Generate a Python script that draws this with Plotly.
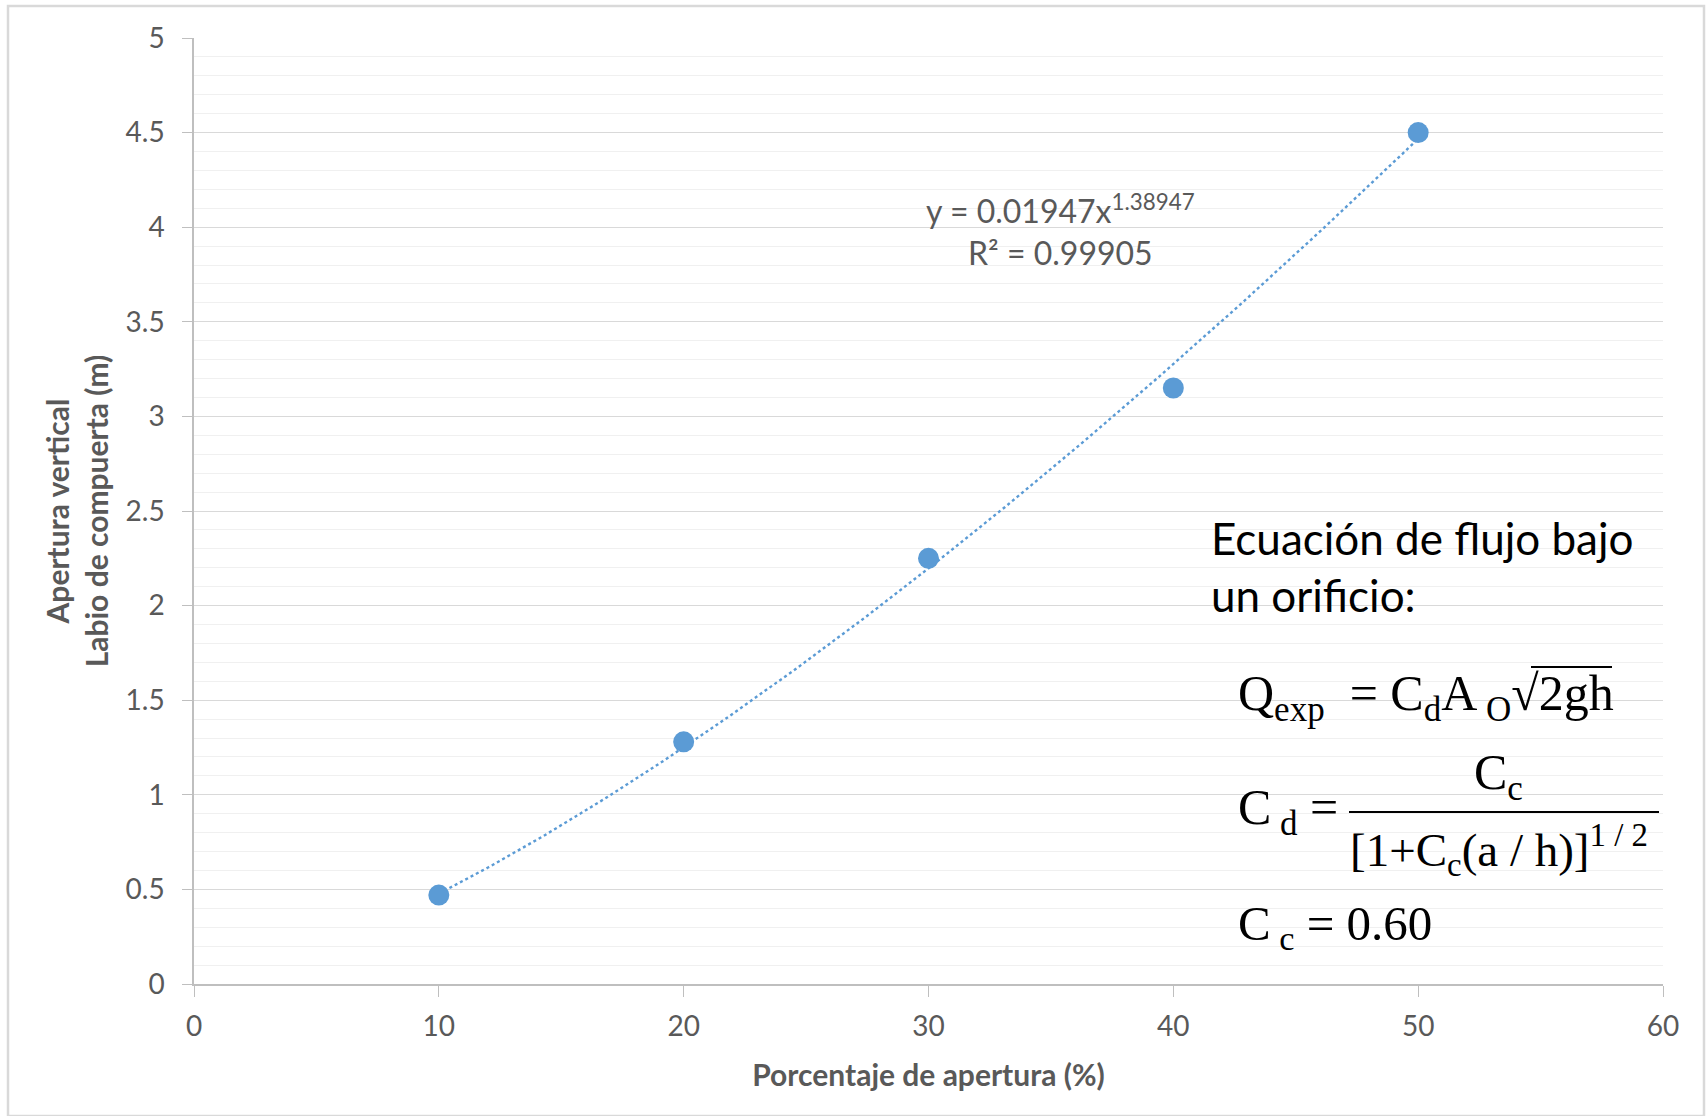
import numpy as np
import plotly.graph_objects as go

# ---- data ----
apertura_pct = [10, 20, 30, 40, 50]
apertura_m = [0.47, 1.28, 2.25, 3.15, 4.50]
fit_a = 0.01947
fit_b = 1.38947
fit_r2 = 0.99905
x_ticks = [0, 10, 20, 30, 40, 50, 60]
y_ticks = [0, 0.5, 1, 1.5, 2, 2.5, 3, 3.5, 4, 4.5, 5]
y_tick_labels = ["0", "0.5", "1", "1.5", "2", "2.5", "3", "3.5", "4", "4.5", "5"]

W, H = 1708, 1116
L, R, T, B = 194, 1663, 38, 984

def px(x):
    return (x - L) / (R - L)

def py(y):
    return (B - y) / (B - T)

blue = "#5B9BD5"
grey = "#595959"
sans = "Lato, 'Open Sans', sans-serif"
serif = "'Liberation Serif', 'DejaVu Serif', serif"
NB = "\u00a0"

# trendline from the fitted power-law equation
xt = np.linspace(min(apertura_pct), max(apertura_pct), 200)
yt = fit_a * xt ** fit_b

fig = go.Figure()
fig.add_trace(go.Scatter(x=xt, y=yt, mode="lines",
                         line=dict(color=blue, width=2.4, dash="dot"),
                         hoverinfo="skip", showlegend=False))
fig.add_trace(go.Scatter(x=apertura_pct, y=apertura_m, mode="markers",
                         marker=dict(color=blue, size=21, line=dict(width=0)),
                         showlegend=False))

fig.update_layout(
    width=W, height=H,
    margin=dict(l=L, r=W - R, t=T, b=H - B),
    paper_bgcolor="white", plot_bgcolor="white",
    font=dict(family=sans, color=grey, size=28),
    xaxis=dict(range=[0, 60], tickvals=x_ticks, showgrid=False, zeroline=False,
               showline=True, linecolor="#BFBFBF", linewidth=1.5,
               ticks="outside", ticklen=11, tickcolor="#BFBFBF",
               ticklabelstandoff=6,
               tickfont=dict(size=28, color=grey, family=sans),
               title=dict(text="<b>Porcentaje de apertura (%)</b>",
                          font=dict(size=30, color=grey, family=sans), standoff=24)),
    yaxis=dict(range=[0, 5], tickvals=y_ticks, ticktext=y_tick_labels,
               showgrid=True, gridcolor="#D9D9D9", gridwidth=1.3, zeroline=False,
               showline=True, linecolor="#BFBFBF", linewidth=1.5,
               ticks="outside", ticklen=10, tickcolor="#BFBFBF",
               ticklabelstandoff=12,
               minor=dict(dtick=0.1, showgrid=True, gridcolor="#F0F0F0", gridwidth=1, ticks=""),
               tickfont=dict(size=28, color=grey, family=sans),
               title=dict(text="<b>Apertura vertical<br>Labio de compuerta (m)</b>",
                          font=dict(size=30, color=grey, family=sans), standoff=8)),
)

ann = []
# trendline equation
ann.append(dict(x=px(1060), y=py(230), xref="paper", yref="paper",
                text=f"y = {fit_a}x<sup>{fit_b}</sup><br>R² = {fit_r2}",
                showarrow=False, align="center", xanchor="center", yanchor="middle",
                font=dict(size=32, color=grey, family=sans)))
# descriptive text
ann.append(dict(x=px(1209), y=py(566), xref="paper", yref="paper",
                text="Ecuación de flujo bajo<br>un orificio:",
                showarrow=False, align="left", xanchor="left", yanchor="middle",
                font=dict(size=44, color="black", family=sans)))
# formulas
fs = 50
ann.append(dict(x=px(1236), y=py(697), xref="paper", yref="paper",
                text=f"Q<sub>exp</sub>{NB} = C<sub>d</sub>A<sub>{NB}O</sub>√2gh",
                showarrow=False, xanchor="left", yanchor="middle",
                font=dict(size=fs, color="black", family=serif)))
ann.append(dict(x=px(1236), y=py(811), xref="paper", yref="paper",
                text=f"C<sub>{NB}d</sub> =",
                showarrow=False, xanchor="left", yanchor="middle",
                font=dict(size=fs, color="black", family=serif)))
ann.append(dict(x=px(1498), y=py(776), xref="paper", yref="paper",
                text="C<sub>c</sub>",
                showarrow=False, xanchor="center", yanchor="middle",
                font=dict(size=fs, color="black", family=serif)))
ann.append(dict(x=px(1348), y=py(850), xref="paper", yref="paper",
                text="[1+C<sub>c</sub>(a / h)]<sup>1 / 2</sup>",
                showarrow=False, xanchor="left", yanchor="middle",
                font=dict(size=47, color="black", family=serif)))
ann.append(dict(x=px(1236), y=py(926), xref="paper", yref="paper",
                text=f"C<sub>{NB}c</sub> = 0.60",
                showarrow=False, xanchor="left", yanchor="middle",
                font=dict(size=49, color="black", family=serif)))
fig.update_layout(annotations=ann)

shapes = [
    # fraction bar
    dict(type="line", xref="paper", yref="paper", x0=px(1349), x1=px(1659),
         y0=py(812), y1=py(812), line=dict(color="black", width=2)),
    # radical overline
    dict(type="line", xref="paper", yref="paper", x0=px(1531), x1=px(1612),
         y0=py(667), y1=py(667), line=dict(color="black", width=2)),
    # outer chart border
    dict(type="rect", xref="paper", yref="paper", x0=px(8), x1=px(1704),
         y0=py(6), y1=py(1116), line=dict(color="#D9D9D9", width=2.5), layer="below"),
]
fig.update_layout(shapes=shapes)

fig.write_html("out.html", config={"displayModeBar": False},
               post_script="document.body.style.margin='0';")
